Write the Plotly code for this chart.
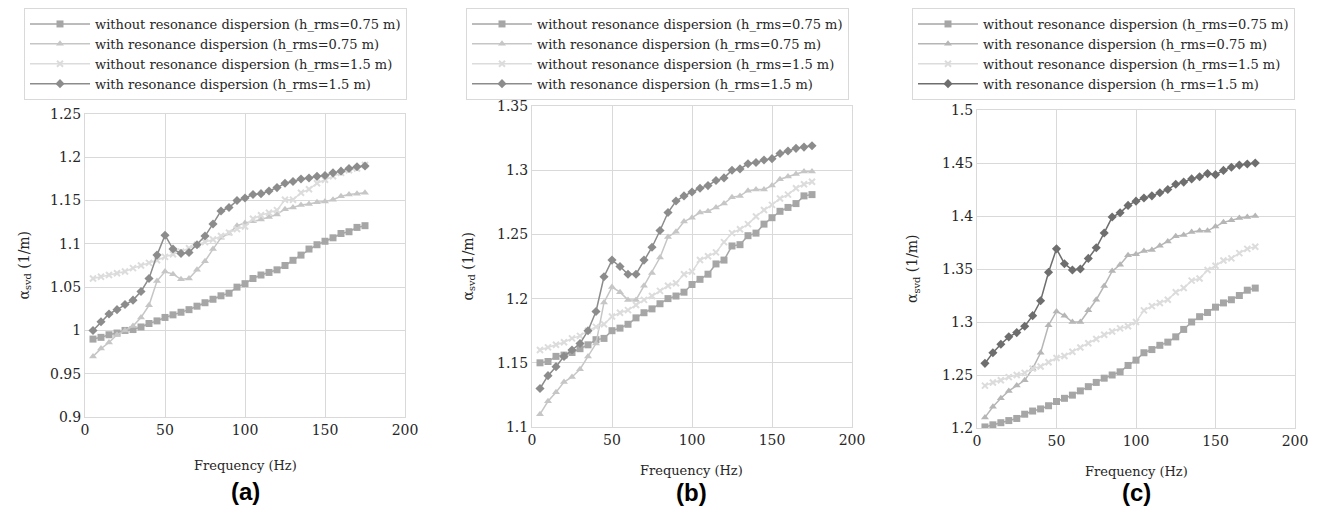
import plotly.graph_objects as go

freq = [5, 10, 15, 20, 25, 30, 35, 40, 45, 50, 55, 60, 65, 70, 75, 80, 85, 90, 95, 100,
        105, 110, 115, 120, 125, 130, 135, 140, 145, 150, 155, 160, 165, 170, 175]

names = ["without resonance dispersion (h_rms=0.75 m)",
         "with resonance dispersion (h_rms=0.75 m)",
         "without resonance dispersion (h_rms=1.5 m)",
         "with resonance dispersion (h_rms=1.5 m)"]

# Panel (a)
a_wo075 = [0.990, 0.992, 0.995, 0.997, 1.000, 1.001, 1.004, 1.008, 1.011, 1.015, 1.018, 1.021, 1.024, 1.028,
           1.032, 1.036, 1.040, 1.043, 1.050, 1.054, 1.060, 1.064, 1.067, 1.070, 1.075, 1.081, 1.087, 1.094,
           1.099, 1.103, 1.107, 1.112, 1.114, 1.119, 1.121]
a_w075 = [0.970, 0.979, 0.986, 0.995, 1.000, 1.005, 1.015, 1.029, 1.057, 1.068, 1.065, 1.059, 1.060, 1.070,
          1.080, 1.094, 1.107, 1.112, 1.121, 1.124, 1.126, 1.128, 1.131, 1.134, 1.140, 1.142, 1.145, 1.146,
          1.148, 1.149, 1.151, 1.155, 1.157, 1.158, 1.159]
a_wo15 = [1.060, 1.062, 1.064, 1.066, 1.068, 1.072, 1.075, 1.078, 1.081, 1.085, 1.088, 1.091, 1.095, 1.099,
          1.102, 1.105, 1.109, 1.113, 1.117, 1.120, 1.129, 1.133, 1.136, 1.139, 1.151, 1.151, 1.159, 1.163,
          1.170, 1.174, 1.178, 1.182, 1.185, 1.187, 1.191]
a_w15 = [1.000, 1.010, 1.019, 1.024, 1.030, 1.035, 1.045, 1.060, 1.087, 1.110, 1.094, 1.089, 1.090, 1.099,
         1.109, 1.123, 1.138, 1.142, 1.150, 1.153, 1.157, 1.158, 1.161, 1.165, 1.170, 1.172, 1.175, 1.176,
         1.178, 1.179, 1.182, 1.184, 1.187, 1.189, 1.190]

# Panel (b)
b_wo075 = [1.150, 1.151, 1.155, 1.156, 1.158, 1.161, 1.164, 1.168, 1.169, 1.175, 1.177, 1.180, 1.185, 1.189,
           1.192, 1.196, 1.200, 1.202, 1.205, 1.211, 1.215, 1.219, 1.227, 1.230, 1.241, 1.242, 1.249, 1.251,
           1.258, 1.263, 1.268, 1.271, 1.274, 1.280, 1.281]
b_w075 = [1.110, 1.120, 1.127, 1.135, 1.139, 1.145, 1.155, 1.165, 1.197, 1.209, 1.205, 1.199, 1.199, 1.210,
          1.220, 1.232, 1.248, 1.252, 1.260, 1.263, 1.267, 1.268, 1.271, 1.274, 1.279, 1.280, 1.284, 1.285,
          1.285, 1.288, 1.293, 1.295, 1.297, 1.299, 1.299]
b_wo15 = [1.160, 1.162, 1.164, 1.166, 1.169, 1.171, 1.175, 1.178, 1.180, 1.186, 1.189, 1.191, 1.195, 1.199,
          1.202, 1.206, 1.210, 1.212, 1.219, 1.221, 1.230, 1.233, 1.236, 1.244, 1.251, 1.254, 1.258, 1.264,
          1.269, 1.273, 1.278, 1.281, 1.286, 1.289, 1.291]
b_w15 = [1.130, 1.140, 1.147, 1.155, 1.160, 1.165, 1.175, 1.190, 1.217, 1.230, 1.225, 1.219, 1.219, 1.230,
         1.240, 1.253, 1.267, 1.276, 1.280, 1.283, 1.286, 1.288, 1.292, 1.294, 1.300, 1.301, 1.305, 1.306,
         1.308, 1.309, 1.313, 1.315, 1.317, 1.318, 1.319]

# Panel (c)
c_wo075 = [1.201, 1.203, 1.205, 1.207, 1.209, 1.213, 1.216, 1.218, 1.221, 1.225, 1.228, 1.231, 1.235, 1.239,
           1.243, 1.247, 1.250, 1.253, 1.259, 1.264, 1.271, 1.274, 1.278, 1.281, 1.286, 1.293, 1.300, 1.305,
           1.309, 1.314, 1.318, 1.321, 1.325, 1.330, 1.332]
c_w075 = [1.210, 1.220, 1.228, 1.235, 1.240, 1.245, 1.256, 1.271, 1.297, 1.310, 1.306, 1.300, 1.300, 1.311,
          1.321, 1.334, 1.348, 1.354, 1.363, 1.364, 1.367, 1.368, 1.372, 1.376, 1.381, 1.382, 1.385, 1.386,
          1.386, 1.390, 1.394, 1.396, 1.398, 1.399, 1.400]
c_wo15 = [1.240, 1.243, 1.245, 1.248, 1.250, 1.252, 1.256, 1.258, 1.262, 1.266, 1.268, 1.272, 1.276, 1.280,
          1.284, 1.288, 1.291, 1.294, 1.296, 1.300, 1.311, 1.315, 1.318, 1.321, 1.328, 1.332, 1.339, 1.341,
          1.349, 1.353, 1.358, 1.360, 1.365, 1.369, 1.371]
c_w15 = [1.261, 1.271, 1.279, 1.286, 1.290, 1.296, 1.306, 1.320, 1.347, 1.369, 1.355, 1.349, 1.350, 1.360,
         1.370, 1.384, 1.399, 1.403, 1.410, 1.414, 1.417, 1.419, 1.422, 1.425, 1.430, 1.432, 1.435, 1.437,
         1.440, 1.439, 1.443, 1.446, 1.448, 1.449, 1.450]

panels = [
    dict(series=[a_wo075, a_w075, a_wo15, a_w15], yrange=[0.9, 1.25],
         ticks=[0.9, 0.95, 1.0, 1.05, 1.1, 1.15, 1.2, 1.25],
         ticktext=["0.9", "0.95", "1", "1.05", "1.1", "1.15", "1.2", "1.25"],
         colors=["#a6a6a6", "#c6c6c6", "#dcdcdc", "#8c8c8c"], label="(a)"),
    dict(series=[b_wo075, b_w075, b_wo15, b_w15], yrange=[1.1, 1.35],
         ticks=[1.1, 1.15, 1.2, 1.25, 1.3, 1.35],
         ticktext=["1.1", "1.15", "1.2", "1.25", "1.3", "1.35"],
         colors=["#a6a6a6", "#c6c6c6", "#dcdcdc", "#8c8c8c"], label="(b)"),
    dict(series=[c_wo075, c_w075, c_wo15, c_w15], yrange=[1.2, 1.5],
         ticks=[1.2, 1.25, 1.3, 1.35, 1.4, 1.45, 1.5],
         ticktext=["1.2", "1.25", "1.3", "1.35", "1.4", "1.45", "1.5"],
         colors=["#a6a6a6", "#b6b6b6", "#dcdcdc", "#6e6e6e"], label="(c)"),
]

W, H = 1322, 522
OFF = 8  # page body margin shifts the figure by 8px
# plot areas in pixels of the target picture: (x0, x1, ytop, ybottom)
boxes = [(85, 405, 114, 417), (532, 852, 106, 427), (977, 1295, 110, 428)]
legend_pos = [(24, 8), (466, 8), (912, 8)]
xtitle_y = [465, 470, 471]
label_y = [491, 492, 492]
ytitle_x = [24, 468, 913]

symbols = ["square", "triangle-up", "x-thin-open", "diamond"]
msizes = [7, 7, 6, 7]

FONT = "DejaVu Serif"
TICK = 14
LEG = 13
TXT = "#262626"


def px(v):
    return (v - OFF) / W


def py(v):
    return 1 - (v - OFF) / H


fig = go.Figure()
layout = dict(width=W, height=H, margin=dict(l=0, r=0, t=0, b=0, autoexpand=False),
              plot_bgcolor="white", paper_bgcolor="white",
              font=dict(family=FONT, size=14, color=TXT), annotations=[])

for i, p in enumerate(panels):
    sfx = "" if i == 0 else str(i + 1)
    x0, x1, yt, yb = boxes[i]
    leg = "legend" if i == 0 else f"legend{i + 1}"
    for j, vals in enumerate(p["series"]):
        sym = symbols[j]
        marker = dict(symbol=sym, size=msizes[j], color=p["colors"][j])
        if sym == "x-thin-open":
            marker["line"] = dict(color=p["colors"][j], width=2)
        fig.add_trace(go.Scatter(
            x=freq, y=vals, mode="lines+markers", name=names[j],
            line=dict(color=p["colors"][j], width=1.5), marker=marker,
            xaxis="x" + sfx, yaxis="y" + sfx, legend=leg, showlegend=True))
    layout["xaxis" + sfx] = dict(domain=[px(x0), px(x1)], anchor="y" + sfx, range=[0, 200],
                                 tickvals=[0, 50, 100, 150, 200], showgrid=True,
                                 gridcolor="#d9d9d9", gridwidth=1, showline=True,
                                 linecolor="#d9d9d9", linewidth=1, mirror=True, zeroline=False,
                                 ticks="", automargin=False,
                                 tickfont=dict(size=TICK, family=FONT, color=TXT))
    layout["yaxis" + sfx] = dict(domain=[py(yb), py(yt)], anchor="x" + sfx,
                                 range=p["yrange"], tickvals=p["ticks"], ticktext=p["ticktext"],
                                 showgrid=True, gridcolor="#d9d9d9", gridwidth=1, showline=True,
                                 linecolor="#d9d9d9", linewidth=1, mirror=True, zeroline=False,
                                 ticks="", automargin=False,
                                 tickfont=dict(size=TICK, family=FONT, color=TXT))
    lx, ly = legend_pos[i]
    layout[leg] = dict(x=px(lx), y=py(ly), xanchor="left", yanchor="top",
                       bgcolor="white", bordercolor="#d9d9d9", borderwidth=1,
                       font=dict(family=FONT, size=LEG, color=TXT),
                       tracegroupgap=0, itemwidth=60)
    cx = (x0 + x1) / 2
    layout["annotations"].append(dict(text="Frequency (Hz)", x=px(cx), y=py(xtitle_y[i]),
                                      xref="paper", yref="paper", showarrow=False,
                                      xanchor="center", yanchor="middle",
                                      font=dict(family=FONT, size=LEG, color=TXT)))
    layout["annotations"].append(dict(text="<b>" + p["label"] + "</b>", x=px(cx),
                                      y=py(label_y[i]), xref="paper", yref="paper",
                                      showarrow=False,
                                      font=dict(family="Liberation Sans", size=24, color="black"),
                                      xanchor="center", yanchor="middle"))
    layout["annotations"].append(dict(text="α<sub>svd</sub> (1/m)", x=px(ytitle_x[i]),
                                      y=py((yt + yb) / 2), xref="paper", yref="paper",
                                      showarrow=False, textangle=-90,
                                      xanchor="center", yanchor="middle",
                                      font=dict(family=FONT, size=TICK, color=TXT)))

fig.update_layout(**layout)
fig.write_html("out.html")
